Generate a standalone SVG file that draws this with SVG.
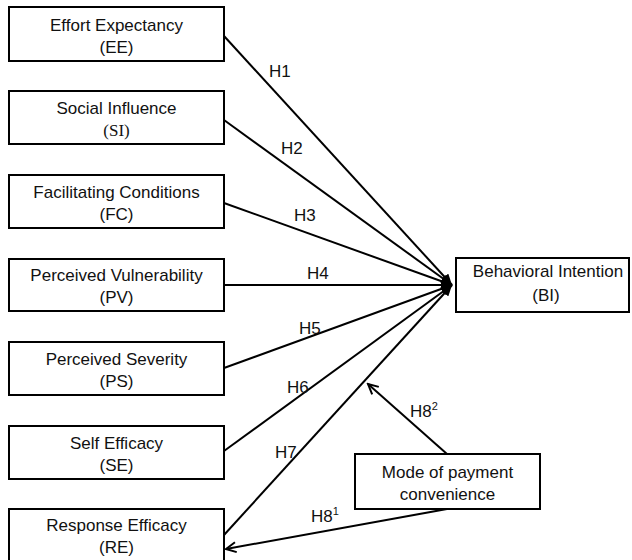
<svg xmlns="http://www.w3.org/2000/svg" width="632" height="560" viewBox="0 0 632 560">
  <style>
    .box { fill: #ffffff; stroke: #000000; stroke-width: 2; }
    .lbl { font-family: "Liberation Sans", Arial, sans-serif; font-size: 17px; fill: #111111; text-anchor: middle; }
    .serif { font-family: "Liberation Serif", "Times New Roman", serif; }
    .hyp { font-family: "Liberation Sans", Arial, sans-serif; font-size: 17px; fill: #111111; }
    .sup { font-size: 11px; }
    .edge { stroke: #000000; stroke-width: 2; fill: none; }
  </style>
  <defs>
    <marker id="solidHead" markerWidth="12" markerHeight="10" refX="11" refY="5" orient="auto" markerUnits="userSpaceOnUse">
      <path d="M0,0 L11,5 L0,10 Z" fill="#000000"/>
    </marker>
    <marker id="openHead" markerWidth="14" markerHeight="14" refX="12" refY="7" orient="auto" markerUnits="userSpaceOnUse">
      <path d="M2,2 L12,7 L2,12" fill="none" stroke="#000000" stroke-width="2"/>
    </marker>
  </defs>
  <rect width="632" height="560" fill="#ffffff"/>

  <!-- connectors -->
  <g id="connectors">
    <line class="edge" x1="224" y1="36" x2="452" y2="285" marker-end="url(#solidHead)"/>
    <line class="edge" x1="224" y1="120" x2="452" y2="285" marker-end="url(#solidHead)"/>
    <line class="edge" x1="224" y1="203" x2="452" y2="285" marker-end="url(#solidHead)"/>
    <line class="edge" x1="224" y1="285" x2="452" y2="285" marker-end="url(#solidHead)"/>
    <line class="edge" x1="224" y1="368" x2="452" y2="285" marker-end="url(#solidHead)"/>
    <line class="edge" x1="224" y1="451" x2="452" y2="285" marker-end="url(#solidHead)"/>
    <line class="edge" x1="224" y1="535" x2="452" y2="285" marker-end="url(#solidHead)"/>
    <line class="edge" x1="447" y1="454" x2="368" y2="384" marker-end="url(#openHead)"/>
    <line class="edge" x1="447" y1="509" x2="226" y2="549" marker-end="url(#openHead)"/>

    <text class="hyp" x="269" y="77">H1</text>
    <text class="hyp" x="281" y="154">H2</text>
    <text class="hyp" x="294" y="221">H3</text>
    <text class="hyp" x="307" y="279">H4</text>
    <text class="hyp" x="299" y="334">H5</text>
    <text class="hyp" x="287" y="393">H6</text>
    <text class="hyp" x="275" y="458">H7</text>
    <text class="hyp" x="410" y="417">H8<tspan class="sup" dy="-7">2</tspan></text>
    <text class="hyp" x="311" y="522">H8<tspan class="sup" dy="-7">1</tspan></text>
  </g>

  <g id="node-ee">
    <rect class="box" x="9" y="7" width="215" height="54"/>
    <text class="lbl" x="116.5" y="31">Effort Expectancy</text>
    <text class="lbl" x="116.5" y="53">(EE)</text>
  </g>
  <g id="node-si">
    <rect class="box" x="9" y="91" width="215" height="53"/>
    <text class="lbl" x="116.5" y="114">Social Influence</text>
    <text class="lbl serif" x="116.5" y="136">(SI)</text>
  </g>
  <g id="node-fc">
    <rect class="box" x="9" y="175" width="215" height="53"/>
    <text class="lbl" x="116.5" y="198">Facilitating Conditions</text>
    <text class="lbl" x="116.5" y="220">(FC)</text>
  </g>
  <g id="node-pv">
    <rect class="box" x="9" y="259" width="215" height="52"/>
    <text class="lbl" x="116.5" y="281">Perceived Vulnerability</text>
    <text class="lbl" x="116.5" y="303">(PV)</text>
  </g>
  <g id="node-ps">
    <rect class="box" x="9" y="342" width="215" height="53"/>
    <text class="lbl" x="116.5" y="365">Perceived Severity</text>
    <text class="lbl" x="116.5" y="387">(PS)</text>
  </g>
  <g id="node-se">
    <rect class="box" x="9" y="426" width="215" height="53"/>
    <text class="lbl" x="116.5" y="449">Self Efficacy</text>
    <text class="lbl" x="116.5" y="471">(SE)</text>
  </g>
  <g id="node-re">
    <rect class="box" x="9" y="509" width="215" height="56"/>
    <text class="lbl" x="116.5" y="531">Response Efficacy</text>
    <text class="lbl" x="116.5" y="553">(RE)</text>
  </g>
  <g id="node-bi">
    <rect class="box" x="456" y="258" width="173" height="54"/>
    <text class="lbl" x="548" y="277">Behavioral Intention</text>
    <text class="lbl" x="546" y="301">(BI)</text>
  </g>
  <g id="node-mode">
    <rect class="box" x="355" y="454" width="185" height="55"/>
    <text class="lbl" x="447.5" y="478">Mode of payment</text>
    <text class="lbl" x="447.5" y="500">convenience</text>
  </g>
</svg>
